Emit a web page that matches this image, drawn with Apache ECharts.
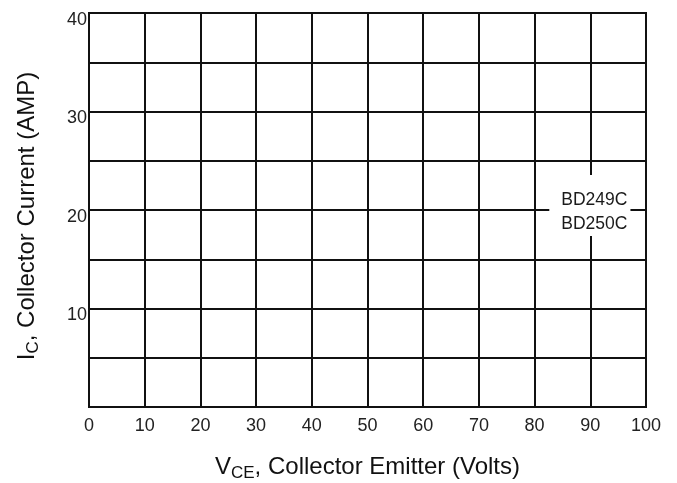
<!DOCTYPE html>
<html>
<head>
<meta charset="utf-8">
<script src="https://cdn.jsdelivr.net/npm/echarts@6/dist/echarts.min.js"></script>
<style>
  html, body { margin: 0; padding: 0; background: #fff; }
  #chart { width: 677px; height: 483px; }
</style>
</head>
<body>
<div id="chart"></div>
<script>
// Collector–emitter voltage axis (Volts) and collector current axis (Amps)
const vceRange = [0, 100];
const vceStep = 10;
const icRange = [0, 40];
const icGridStep = 5;
const icLabelStep = 10;

// Device annotation placed on the grid
const deviceNames = ['BD249C', 'BD250C'];
const devicePoint = [90, 20];

const FONT = '"Liberation Sans", Arial, Helvetica, sans-serif';
const INK = '#111';

const chart = echarts.init(document.getElementById('chart'), null, { renderer: 'canvas' });

chart.setOption({
  animation: false,
  backgroundColor: '#fff',
  grid: {
    left: 89, right: 31, top: 13, bottom: 76,
    containLabel: false,
    outerBoundsMode: 'none',
    show: true, borderColor: INK, borderWidth: 2
  },
  xAxis: {
    type: 'value',
    min: vceRange[0], max: vceRange[1], interval: vceStep,
    axisLine: { show: true, lineStyle: { color: INK, width: 2 } },
    axisTick: { show: false },
    splitLine: { show: true, lineStyle: { color: INK, width: 2 } },
    axisLabel: { color: '#222', fontFamily: FONT, fontSize: 18, margin: 10 },
    name: '{m|V}{s|CE}{m|, Collector Emitter (Volts)}',
    nameLocation: 'middle',
    nameGap: 60,
    nameTextStyle: {
      verticalAlign: 'middle',
      rich: {
        m: { fontFamily: FONT, fontSize: 24, color: '#111' },
        s: { fontFamily: FONT, fontSize: 17, color: '#111', padding: [12, 0, 0, 0] }
      }
    }
  },
  yAxis: {
    type: 'value',
    min: icRange[0], max: icRange[1], interval: icGridStep,
    axisLine: { show: true, lineStyle: { color: INK, width: 2 } },
    axisTick: { show: false },
    splitLine: { show: true, lineStyle: { color: INK, width: 2 } },
    axisLabel: {
      color: '#222', fontFamily: FONT, fontSize: 18, margin: 2,
      verticalAlign: 'top', lineHeight: 14,
      formatter: v => (v !== 0 && v % icLabelStep === 0) ? String(v) : ''
    },
    name: '{m|I}{s|C}{m|, Collector Current (AMP)}',
    nameLocation: 'middle',
    nameGap: 62,
    nameRotate: 90,
    nameTextStyle: {
      verticalAlign: 'middle',
      padding: [0, 12, 0, 0],
      rich: {
        m: { fontFamily: FONT, fontSize: 24, color: '#111' },
        s: { fontFamily: FONT, fontSize: 17, color: '#111', padding: [12, 0, 0, 0] }
      }
    }
  },
  series: [{
    type: 'scatter',
    data: [devicePoint],
    symbolSize: 0,
    silent: true,
    z: 10,
    itemStyle: { opacity: 1 },
    label: {
      show: true,
      position: 'inside',
      align: 'left',
      verticalAlign: 'top',
      offset: [-41, -35],
      formatter: () => deviceNames.join('\n'),
      fontFamily: FONT,
      fontSize: 17.5,
      lineHeight: 24,
      color: '#1a1a1a',
      backgroundColor: '#fff',
      padding: [13, 3, 0, 12]
    }
  }]
});
</script>
</body>
</html>
